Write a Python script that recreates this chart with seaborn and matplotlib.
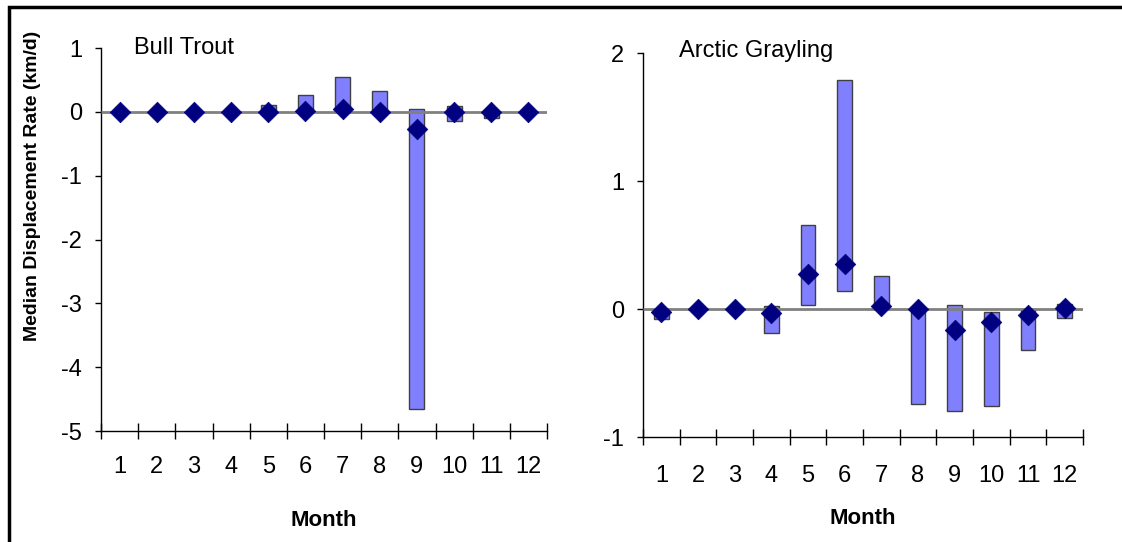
import numpy as np
import pandas as pd
import matplotlib
matplotlib.use('Agg')
import matplotlib.pyplot as plt
from matplotlib.patches import Rectangle
import seaborn as sns

months = list(range(1, 13))

# Bull Trout: median and range (low/high) per month, km/d
bt_median = [0.0, 0.0, 0.0, 0.0, 0.0, 0.02, 0.05, 0.0, -0.27, 0.0, 0.0, 0.0]
bt_low = [-0.01, -0.01, -0.01, -0.01, 0.0, 0.0, 0.0, 0.0, -4.65, -0.14, -0.1, -0.01]
bt_high = [0.0, 0.0, 0.0, 0.0, 0.1, 0.26, 0.55, 0.33, 0.04, 0.09, 0.0, 0.0]

# Arctic Grayling
ag_median = [-0.02, 0.0, 0.0, -0.03, 0.27, 0.35, 0.02, 0.0, -0.165, -0.1, -0.045, 0.01]
ag_low = [-0.08, -0.01, -0.01, -0.19, 0.03, 0.14, 0.0, -0.74, -0.80, -0.76, -0.32, -0.07]
ag_high = [0.0, 0.0, 0.0, 0.02, 0.66, 1.79, 0.26, 0.0, 0.03, -0.02, 0.0, 0.04]

sns.set_style('ticks')
plt.rcParams['font.family'] = ['Liberation Sans', 'DejaVu Sans']
plt.rcParams['text.color'] = 'black'
plt.rcParams['axes.labelcolor'] = 'black'
plt.rcParams['xtick.color'] = 'black'
plt.rcParams['ytick.color'] = 'black'

W, H = 1122, 542
fig = plt.figure(figsize=(W / 100, H / 100), dpi=100)

def px_axes(x0, y_top, x1, y_bot):
    return fig.add_axes([x0 / W, 1 - y_bot / H, (x1 - x0) / W, (y_bot - y_top) / H])

def draw_panel(ax, med, low, high, ylim, yticks, title, title_xy, tick_pad, label_pad):
    df = pd.DataFrame({'month': months, 'median': med, 'low': low, 'high': high})
    ax.bar(df['month'], df['high'] - df['low'], bottom=df['low'], width=0.4,
           color='#8080ff', edgecolor='#404040', linewidth=1, zorder=2)
    ax.plot([0.5, 12.5], [0, 0], color='#808080', lw=2, zorder=3, solid_capstyle='butt')
    sns.scatterplot(data=df, x='month', y='median', marker='D', s=110,
                    color='#000080', edgecolor='#000080', linewidth=0.5,
                    ax=ax, zorder=4, legend=False)
    ax.set_xlim(0.5, 12.5)
    ax.set_ylim(*ylim)
    ax.set_yticks(yticks)
    ax.set_yticklabels([str(t) for t in yticks])
    ax.set_xticks(months)
    ax.set_xticklabels([str(m) for m in months])
    ax.set_xticks(np.arange(0.5, 13, 1), minor=True)
    ax.tick_params(axis='x', which='major', length=0, pad=tick_pad, labelsize=17)
    ax.tick_params(axis='x', which='minor', direction='inout', length=12, width=1)
    ax.tick_params(axis='y', which='major', direction='out', length=4.5, width=1,
                   pad=9, labelsize=17)
    sns.despine(ax=ax)
    for s in ['left', 'bottom']:
        ax.spines[s].set_color('black')
        ax.spines[s].set_linewidth(1)
    ax.set_xlabel('Month', fontsize=16, fontweight='bold', labelpad=label_pad)
    ax.set_ylabel('')
    ax.text(title_xy[0], title_xy[1], title, transform=ax.transAxes,
            fontsize=17, ha='left', va='top')
    ax.grid(False)

ax1 = px_axes(101, 48, 547, 431)
draw_panel(ax1, bt_median, bt_low, bt_high, (-5, 1), [1, 0, -1, -2, -3, -4, -5],
           'Bull Trout', (0.075, 1.03), 18, 23)

ax2 = px_axes(643, 53, 1083, 437)
draw_panel(ax2, ag_median, ag_low, ag_high, (-1, 2), [2, 1, 0, -1],
           'Arctic Grayling', (0.082, 1.035), 20.5, 15)

fig.text(33 / W, 1 - 186 / H, 'Median Displacement Rate (km/d)', rotation=90,
         fontsize=14, fontweight='bold', ha='center', va='center')

# outer chart frame (only top and left edges fall inside the image)
fig.patches.append(Rectangle((8.5 / W, -0.1), 1.2, 1 - 6.5 / H + 0.1,
                             transform=fig.transFigure, fill=False,
                             edgecolor='black', linewidth=2.5))

plt.savefig('out.png', dpi=100)
plt.close()
